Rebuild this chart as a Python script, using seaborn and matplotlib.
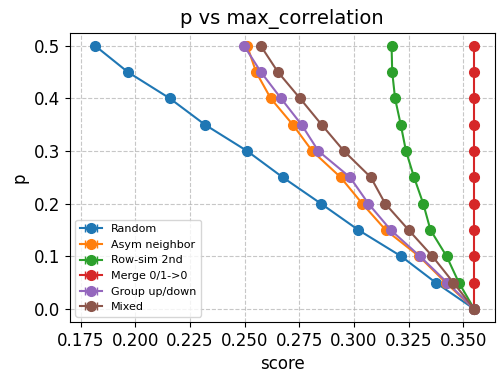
import numpy as np
import seaborn as sns
import matplotlib
matplotlib.use("Agg")
import matplotlib.pyplot as plt

# -------------------------
# 1. Data
# -------------------------
p = [0.0, 0.05, 0.1, 0.15, 0.2, 0.25, 0.3, 0.35, 0.4, 0.45, 0.5]

random_score = [0.355, 0.3374, 0.3216, 0.302, 0.2849, 0.2674, 0.2511, 0.2318, 0.2157, 0.1965, 0.1815]
asym_score = [0.355, 0.342, 0.3298, 0.3145, 0.3038, 0.2939, 0.2809, 0.272, 0.2619, 0.2552, 0.2511]
rowsim_score = [0.355, 0.348, 0.3424, 0.335, 0.3317, 0.3275, 0.3238, 0.3214, 0.3188, 0.3175, 0.3172]
merge_score = [0.355, 0.355, 0.355, 0.355, 0.355, 0.355, 0.355, 0.355, 0.355, 0.355, 0.355]
group_score = [0.355, 0.3427, 0.3302, 0.3168, 0.3066, 0.2982, 0.2837, 0.276, 0.2666, 0.2574, 0.2497]
mixed_score = [0.355, 0.3455, 0.3359, 0.325, 0.3143, 0.3077, 0.2954, 0.2852, 0.2753, 0.2652, 0.2573]

random_err = [0.0, 0.0008, 0.0009, 0.0009, 0.001, 0.001, 0.001, 0.0011, 0.0011, 0.0012, 0.0013]
asym_err = [0.0, 0.0005, 0.0005, 0.0006, 0.0006, 0.0006, 0.0007, 0.0007, 0.0007, 0.0007, 0.0008]
rowsim_err = [0.0, 0.0003, 0.0003, 0.0003, 0.0003, 0.0003, 0.0003, 0.0003, 0.0003, 0.0003, 0.0003]
merge_err = [0.0] * 11
group_err = [0.0, 0.0005, 0.0005, 0.0006, 0.0006, 0.0006, 0.0006, 0.0007, 0.0007, 0.0007, 0.0007]
mixed_err = [0.0, 0.0006, 0.0006, 0.0007, 0.0007, 0.0007, 0.0008, 0.0008, 0.0009, 0.0012, 0.0009]

labels = ["Random", "Asym neighbor", "Row-sim 2nd", "Merge 0/1->0", "Group up/down", "Mixed"]
scores = [random_score, asym_score, rowsim_score, merge_score, group_score, mixed_score]
errors = [random_err, asym_err, rowsim_err, merge_err, group_err, mixed_err]

# -------------------------
# 2. Plot
# -------------------------
colors = sns.color_palette("tab10", len(labels))

fig, ax = plt.subplots(figsize=(5.03, 3.83), dpi=100)
for lab, sc, er, col in zip(labels, scores, errors, colors):
    ax.errorbar(sc, p, xerr=er, marker="o", color=col, label=lab,
                capsize=3, linewidth=1.5, markersize=7)

ax.set_title("p vs max_correlation", fontsize=14)
ax.set_xlabel("score", fontsize=12)
ax.set_ylabel("p", fontsize=12)
ax.tick_params(labelsize=12)
ax.set_xlim(0.170, 0.3644)
ax.grid(True, linestyle="--", alpha=0.7)
ax.legend(fontsize=8, loc="lower left")

fig.subplots_adjust(left=0.139, right=0.9835, top=0.915, bottom=0.159)
plt.savefig("out.png", dpi=100)
